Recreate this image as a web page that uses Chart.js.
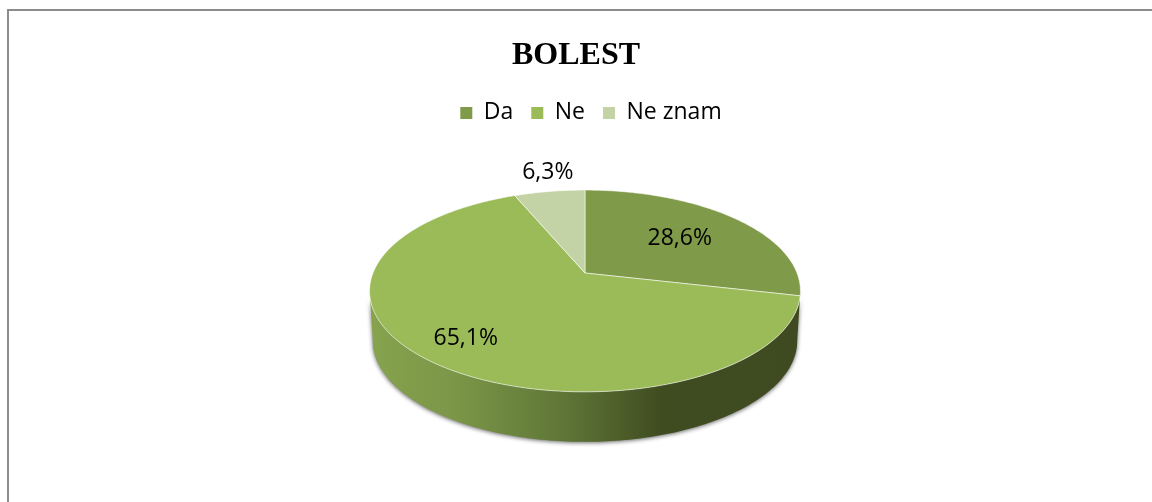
<!DOCTYPE html>
<html><head><meta charset="utf-8">
<script src="https://cdn.jsdelivr.net/npm/chart.js@4"></script>
<style>html,body{margin:0;padding:0;background:#fff}#w{position:relative;width:1152px;height:502px;overflow:hidden}
#f{position:absolute;left:7px;top:9px;width:1200px;height:600px;border:2px solid #8c8c8c;box-sizing:content-box}
canvas{position:absolute;left:0;top:0}</style></head>
<body><div id="w"><div id="f"></div><canvas id="c" width="1152" height="502"></canvas></div>
<script>
const chartTitle = 'BOLEST';
const categories = ['Da', 'Ne', 'Ne znam'];
const shares = [28.6, 65.1, 6.3];
const valueLabels = ['28,6%', '65,1%', '6,3%'];
const sliceColors = ['#7f9a48', '#9bbb59', '#c3d3a5'];
const labelRadius = [0.61, 0.78, 1.285];
const labelTurn = [0, 0, 0.03];

// perspective of the tilted disc
const P = {cx:585, apexY:273, d:212, a:49.1, c:-0.178, depth:50, narrow:0.985};
function proj(t, r){ // t: chart.js angle (0 = east), r: 0..1
  const u = Math.cos(t)*r, v = Math.sin(t)*r, w = 1 + P.c*v;
  return [P.cx + P.d*u/w, (P.a*v + P.apexY)/w];
}
function slicePath(ctx, s, e){
  ctx.beginPath();
  const p0 = proj(s,0); ctx.moveTo(p0[0], p0[1]);
  const n = Math.max(8, Math.ceil((e-s)*60));
  for(let i=0;i<=n;i++){ const p = proj(s+(e-s)*i/n,1); ctx.lineTo(p[0],p[1]); }
  ctx.closePath();
}
const disc3d = {
  id:'disc3d',
  afterLayout(chart){
    chart.legend.left += 15; chart.legend.right += 15;
  },
  beforeDatasetDraw(chart, args){
    const ctx = chart.ctx, arcs = chart.getDatasetMeta(args.index).data;
    ctx.save();
    const N = 360;
    let pts = [];
    for(let i=0;i<=N;i++){ const t = i/N*Math.PI*2; pts.push(proj(t,1)); }
    let li=0, ri=0;
    pts.forEach((p,i)=>{ if(p[0]<pts[li][0]) li=i; if(p[0]>pts[ri][0]) ri=i; });
    const front = pts.slice(ri, li+1);
    ctx.beginPath();
    front.forEach((p,i)=> i? ctx.lineTo(p[0],p[1]) : ctx.moveTo(p[0],p[1]));
    front.slice().reverse().forEach(p=> ctx.lineTo(P.cx+(p[0]-P.cx)*P.narrow, p[1]+P.depth));
    ctx.closePath();
    const g = ctx.createLinearGradient(370,0,800,0);
    g.addColorStop(0,'#86a34e'); g.addColorStop(0.2,'#7b9647');
    g.addColorStop(0.45,'#5f7637'); g.addColorStop(0.68,'#3f4c20');
    g.addColorStop(1,'#3f4a21');
    ctx.save();
    ctx.shadowColor='rgba(0,0,0,0.6)'; ctx.shadowBlur=4; ctx.shadowOffsetX=0; ctx.shadowOffsetY=1;
    ctx.fillStyle=g; ctx.fill();
    ctx.restore();
    // top slices, from the library's arc angles
    arcs.forEach((arc,i)=>{
      slicePath(ctx, arc.startAngle, arc.endAngle);
      ctx.fillStyle = sliceColors[i]; ctx.fill();
      ctx.strokeStyle='rgba(255,255,255,0.55)'; ctx.lineWidth=1; ctx.stroke();
    });
    ctx.restore();
    return false;
  },
  afterDatasetsDraw(chart){
    const ctx = chart.ctx, arcs = chart.getDatasetMeta(0).data;
    ctx.save();
    ctx.font = '23px "Open Sans"';
    ctx.fillStyle='#000'; ctx.textAlign='center'; ctx.textBaseline='middle';
    arcs.forEach((arc,i)=>{
      const pos = proj((arc.startAngle+arc.endAngle)/2 + labelTurn[i], labelRadius[i]);
      ctx.fillText(valueLabels[i], pos[0], pos[1]);
    });
    ctx.restore();
  }
};
new Chart(document.getElementById('c'),{
  type:'pie',
  data:{labels:categories,datasets:[{data:shares,backgroundColor:sliceColors,borderWidth:0}]},
  plugins:[disc3d],
  options:{
    responsive:false,animation:false,
    layout:{padding:{top:37,bottom:60}},
    plugins:{
      tooltip:{enabled:false},
      title:{display:true,text:chartTitle,color:'#000',font:{family:'"Liberation Serif"',size:32,weight:'bold'},padding:{top:0,bottom:8}},
      legend:{position:'top',labels:{color:'#000',font:{family:'"Open Sans"',size:23},boxWidth:12,boxHeight:12,padding:18}}
    }
  }
});
</script></body></html>
